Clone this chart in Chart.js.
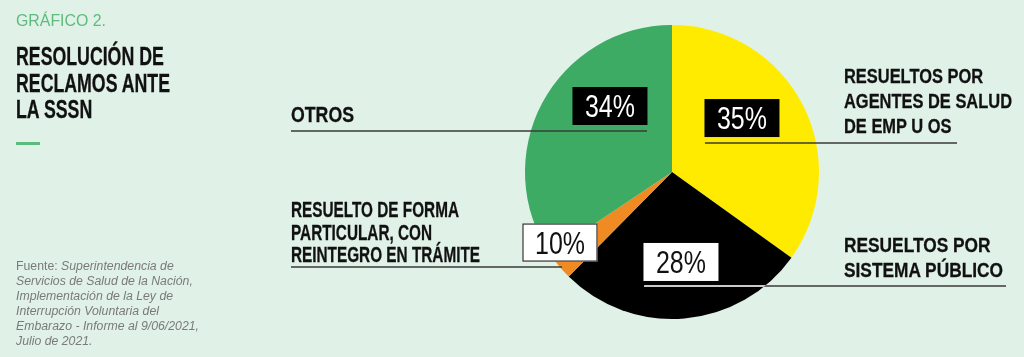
<!DOCTYPE html>
<html>
<head>
<meta charset="utf-8">
<script src="https://cdn.jsdelivr.net/npm/chart.js@4.4.1/dist/chart.umd.min.js"></script>
<style>
  html, body { margin: 0; padding: 0; }
  body { width: 1024px; height: 357px; background: #e0f1e8; position: relative; overflow: hidden; }
  #wrap { position: absolute; left: 0; top: 0; width: 1024px; height: 357px; }
  .t { position: absolute; white-space: nowrap; transform-origin: 0 0; display: inline-block; }
  .cond { font-family: "Liberation Sans Narrow", "Liberation Sans", Arial, sans-serif; font-weight: 700; color: #111; -webkit-text-stroke: 0.3px #111; }
  #kicker { left: 16px; top: 11px; font-family: "Liberation Sans Narrow", "Liberation Sans", sans-serif; font-weight: 400; font-size: 17px; line-height: 20px; color: #5dbb7e; }
  #title { left: 16px; top: 43px; font-size: 25px; line-height: 26.6px; }
  #dash { position: absolute; left: 16px; top: 142px; width: 24px; height: 2.5px; background: #5dbb7e; }
  #source { left: 16px; top: 259px; font-family: "Liberation Sans", Arial, sans-serif; font-size: 12.5px; line-height: 15px; color: #7a7a7a; }
  #source i { font-style: italic; }
  .lbl { font-size: 22px; line-height: 22.5px; }
  .rlbl { font-size: 21px; line-height: 25px; }
</style>
</head>
<body>
<div id="wrap"><canvas id="c" width="1024" height="357"></canvas></div>

<div id="kicker" class="t">GRÁFICO 2.</div>
<div id="title" class="t cond">RESOLUCIÓN DE<br>RECLAMOS ANTE<br>LA SSSN</div>
<div id="dash"></div>
<div id="source" class="t">Fuente: <i>Superintendencia de</i><br><i>Servicios de Salud de la Nación,</i><br><i>Implementación de la Ley de</i><br><i>Interrupción Voluntaria del</i><br><i>Embarazo - Informe al 9/06/2021,</i><br><i>Julio de 2021.</i></div>

<div id="l0" class="t cond rlbl" style="left:844px; top:63px;">RESUELTOS POR<br>AGENTES DE SALUD<br>DE EMP U OS</div>
<div id="l1" class="t cond rlbl" style="left:844px; top:232px;">RESUELTOS POR<br>SISTEMA PÚBLICO</div>
<div id="l2" class="t cond lbl" style="left:291px; top:199px;">RESUELTO DE FORMA<br>PARTICULAR, CON<br>REINTEGRO EN TRÁMITE</div>
<div id="l3" class="t cond lbl" style="left:291px; top:104px;">OTROS</div>

<script>
// ---- data ----
const categories = [
  "Resueltos por agentes de salud de EMP u OS",
  "Resueltos por sistema público",
  "Resuelto de forma particular, con reintegro en trámite",
  "Otros"
];
const sliceValues = [34.9, 27.5, 3.2, 34.4];   // slice sizes as drawn
const percentLabels = ["35%", "28%", "10%", "34%"]; // labels as printed
const sliceColors = ["#ffeb00", "#000000", "#ef8b22", "#3dab63"];

// ---- callout layout (in units of pie radius, relative to pie centre) ----
const callouts = [
  { bx: 0.476, by: -0.367, ly: -0.197, lx0: 0.224, lx1: 1.939, fill: "#000", text: "#fff", border: null, lineIn: "#3a3a3a" },
  { bx: 0.061, by: 0.612, ly: 0.776, lx0: -0.190, lx1: 2.272, fill: "#fff", text: "#111", border: null, lineIn: "#ffffff" },
  { bx: -0.762, by: 0.480, ly: 0.646, lx0: -2.592, lx1: -0.748, fill: "#fff", text: "#111", border: "#333", lineIn: "#3a3a3a" },
  { bx: -0.422, by: -0.449, ly: -0.279, lx0: -2.592, lx1: -0.170, fill: "#000", text: "#fff", border: null, lineIn: "#3a3a3a" }
];

const calloutPlugin = {
  id: "callouts",
  afterDatasetsDraw(chart) {
    const ctx = chart.ctx;
    const meta = chart.getDatasetMeta(0);
    const a = meta.data[0];
    const cx = a.x, cy = a.y, r = a.outerRadius;
    const outColor = "#3a3a3a";
    callouts.forEach(c => {
      const y = cy + c.ly * r;
      const x0 = cx + c.lx0 * r, x1 = cx + c.lx1 * r;
      ctx.save();
      ctx.strokeStyle = outColor; ctx.lineWidth = 1.5;
      ctx.beginPath(); ctx.moveTo(x0, y); ctx.lineTo(x1, y); ctx.stroke();
      if (c.lineIn !== outColor) {
        ctx.beginPath(); ctx.arc(cx, cy, r, 0, Math.PI * 2); ctx.clip();
        ctx.strokeStyle = c.lineIn;
        ctx.beginPath(); ctx.moveTo(x0, y); ctx.lineTo(x1, y); ctx.stroke();
      }
      ctx.restore();
    });
    const bw = 75, bh = 38;
    callouts.forEach((c, i) => {
      const bx = cx + c.bx * r, by = cy + c.by * r;
      ctx.save();
      ctx.fillStyle = c.fill;
      ctx.fillRect(bx - bw / 2, by - bh / 2, bw, bh);
      if (c.border) {
        ctx.strokeStyle = c.border; ctx.lineWidth = 1.2;
        ctx.strokeRect(bx - bw / 2 + 0.5, by - bh / 2 + 0.5, bw - 1, bh - 1);
      }
      const fs = 31;
      ctx.font = "400 " + fs + "px 'Liberation Sans', Arial, sans-serif";
      const w = ctx.measureText(percentLabels[i]).width;
      const target = 50;
      ctx.translate(bx, by + fs * 0.716 / 2);
      ctx.scale(target / w, 1);
      ctx.fillStyle = c.text;
      ctx.textAlign = "center";
      ctx.textBaseline = "alphabetic";
      ctx.fillText(percentLabels[i], 0, 0);
      ctx.restore();
    });
  }
};

new Chart(document.getElementById("c"), {
  type: "pie",
  data: {
    labels: categories,
    datasets: [{ data: sliceValues, backgroundColor: sliceColors, borderWidth: 0 }]
  },
  options: {
    responsive: false,
    animation: false,
    events: [],
    layout: { padding: { left: 525, right: 205, top: 25, bottom: 38 } },
    plugins: { legend: { display: false }, tooltip: { enabled: false } }
  },
  plugins: [calloutPlugin]
});

function fit(id, target) {
  const el = document.getElementById(id);
  el.style.transform = "none";
  const w = el.getBoundingClientRect().width;
  el.style.transform = "scaleX(" + (target / w) + ")";
}
fit("kicker", 90);
fit("title", 154);
fit("source", 183);
fit("l0", 168);
fit("l1", 159);
fit("l2", 189);
fit("l3", 63);
</script>
</body>
</html>
